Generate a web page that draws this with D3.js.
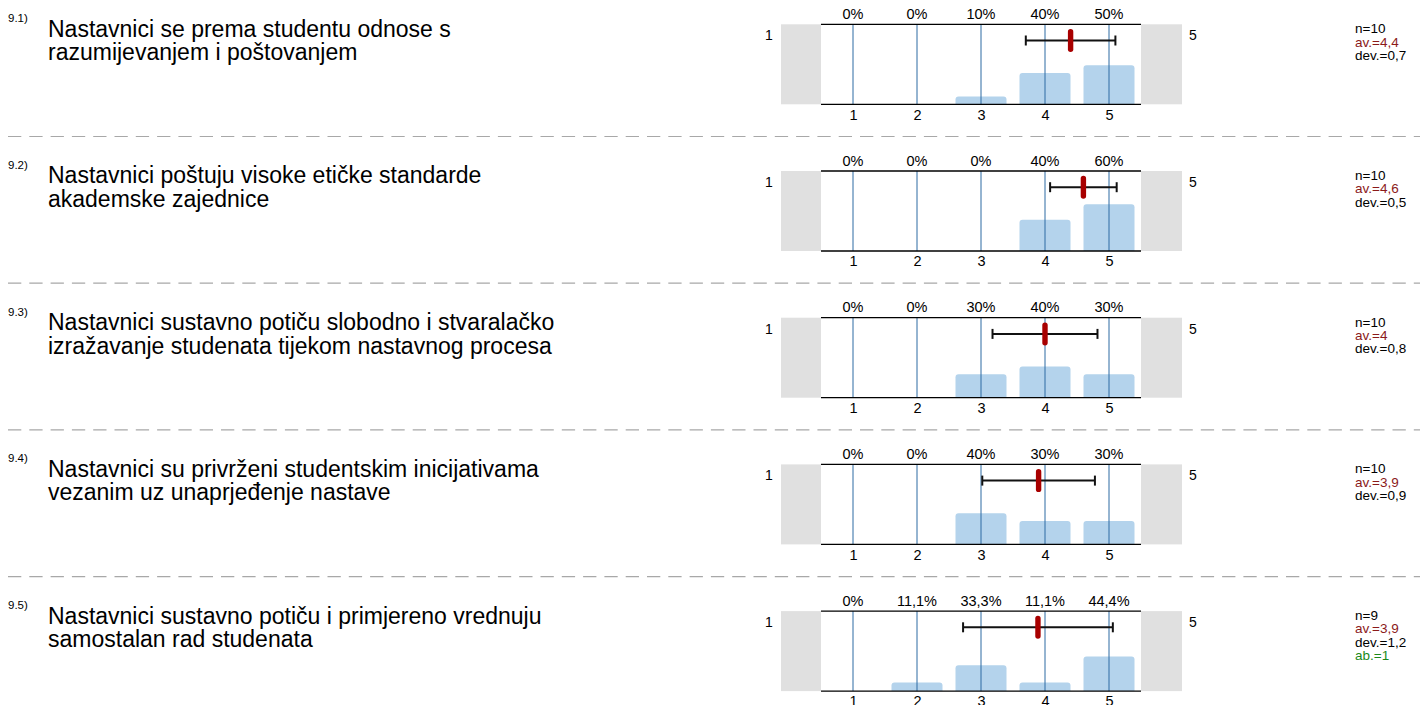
<!DOCTYPE html>
<html><head><meta charset="utf-8">
<script src="https://cdn.jsdelivr.net/npm/d3@7"></script>
<style>html,body{margin:0;padding:0;background:#fff;overflow:hidden}svg{display:block;font-family:"Liberation Sans",Arial,sans-serif}</style>
</head><body><svg id="c" width="1420" height="705"></svg>
<script>
const questionNums = ["9.1)", "9.2)", "9.3)", "9.4)", "9.5)"];
const questionLines = [
  ["Nastavnici se prema studentu odnose s", "razumijevanjem i poštovanjem"],
  ["Nastavnici poštuju visoke etičke standarde", "akademske zajednice"],
  ["Nastavnici sustavno potiču slobodno i stvaralačko", "izražavanje studenata tijekom nastavnog procesa"],
  ["Nastavnici su privrženi studentskim inicijativama", "vezanim uz unaprjeđenje nastave"],
  ["Nastavnici sustavno potiču i primjereno vrednuju", "samostalan rad studenata"]
];
const categories = [1, 2, 3, 4, 5];
const percentValues = [
  [0, 0, 10, 40, 50],
  [0, 0, 0, 40, 60],
  [0, 0, 30, 40, 30],
  [0, 0, 40, 30, 30],
  [0, 11.1, 33.3, 11.1, 44.4]
];
const nValues = [10, 10, 10, 10, 9];
const meanValues = [4.4, 4.6, 4.0, 3.9, 3.89];
const devValues = [0.7, 0.52, 0.82, 0.88, 1.17];
const avLabels = ["4,4", "4,6", "4", "3,9", "3,9"];
const devLabels = ["0,7", "0,5", "0,8", "0,9", "1,2"];
const abLabels = [null, null, null, null, "1"];
const scaleMinLabel = "1", scaleMaxLabel = "5";

const svg = d3.select("#c");
const rowStep = 146.7, firstTop = 24.3, plotH = 80;
const x = d3.scaleLinear().domain([0.5, 5.5]).range([821, 1141]);
const barH = d3.scaleLinear().domain([0, 100]).range([0, 78]);
const fmtPct = v => String(v).replace(".", ",") + "%";

questionNums.forEach((q, i) => {
  const top = firstTop + i * rowStep, bot = top + plotH;
  const g = svg.append("g");
  if (i > 0) g.append("line").attr("x1", 8).attr("x2", 1420).attr("y1", top - 34.5).attr("y2", top - 34.5)
    .attr("stroke", "#a8a8a8").attr("stroke-width", 1.2).attr("stroke-dasharray", "13.3,8");
  g.append("text").attr("x", 8).attr("y", top - 2).attr("font-size", 11.5).attr("fill", "#000").text(q);
  questionLines[i].forEach((l, k) => g.append("text").attr("x", 48).attr("y", top + 12.4 + k * 23.6)
    .attr("font-size", 23).attr("fill", "#000").text(l));
  g.append("rect").attr("x", 781).attr("y", top).attr("width", 40).attr("height", plotH).attr("fill", "#e0e0e0");
  g.append("rect").attr("x", 1141).attr("y", top).attr("width", 41).attr("height", plotH).attr("fill", "#e0e0e0");
  g.append("text").attr("x", 769).attr("y", top + 16).attr("text-anchor", "middle").attr("font-size", 14).text(scaleMinLabel);
  g.append("text").attr("x", 1193).attr("y", top + 16).attr("text-anchor", "middle").attr("font-size", 14).text(scaleMaxLabel);
  const bw = 51;
  g.selectAll("path.bar").data(percentValues[i]).join("path").attr("class", "bar")
    .attr("fill", "#b4d3ec")
    .attr("d", (v, j) => {
      const h = barH(v); if (h <= 0) return null;
      const x0 = x(categories[j]) - bw / 2, r = Math.min(3, h);
      return `M${x0},${bot} L${x0},${bot - h + r} Q${x0},${bot - h} ${x0 + r},${bot - h} L${x0 + bw - r},${bot - h} Q${x0 + bw},${bot - h} ${x0 + bw},${bot - h + r} L${x0 + bw},${bot} Z`;
    });
  g.selectAll("line.grid").data(categories).join("line").attr("class", "grid")
    .attr("x1", d => x(d)).attr("x2", d => x(d)).attr("y1", top).attr("y2", bot)
    .attr("stroke", "#2d6aa3").attr("stroke-width", 1);
  [top, bot].forEach(yy => g.append("line").attr("x1", 821).attr("x2", 1141).attr("y1", yy).attr("y2", yy)
    .attr("stroke", "#000").attr("stroke-width", 1.3));
  g.selectAll("text.pct").data(percentValues[i]).join("text").attr("class", "pct")
    .attr("x", (v, j) => x(categories[j])).attr("y", top - 5.5).attr("text-anchor", "middle")
    .attr("font-size", 14.5).text(v => fmtPct(v));
  const axis = d3.axisBottom(x).tickValues(categories).tickSize(0).tickPadding(5).tickFormat(d3.format("d"));
  const ag = g.append("g").attr("transform", `translate(0,${bot})`).call(axis);
  ag.select(".domain").remove();
  ag.selectAll("text").attr("font-size", 14.5).attr("font-family", "Liberation Sans, Arial, sans-serif").attr("fill", "#000");
  const ey = top + 16.2, m = meanValues[i], d = devValues[i];
  g.append("line").attr("x1", x(m - d)).attr("x2", x(m + d)).attr("y1", ey).attr("y2", ey).attr("stroke", "#111").attr("stroke-width", 2);
  [m - d, m + d].forEach(v => g.append("line").attr("x1", x(v)).attr("x2", x(v)).attr("y1", ey - 5).attr("y2", ey + 5)
    .attr("stroke", "#111").attr("stroke-width", 2));
  g.append("rect").attr("x", x(m) - 2.7).attr("y", ey - 11.5).attr("width", 5.4).attr("height", 23).attr("rx", 2.7)
    .attr("fill", "#a80000");
  const stats = [["n=" + nValues[i], "#000"], ["av.=" + avLabels[i], "#8b1a1a"], ["dev.=" + devLabels[i], "#000"]];
  if (abLabels[i] !== null) stats.push(["ab.=" + abLabels[i], "#1a8a1a"]);
  stats.forEach((s, k) => g.append("text").attr("x", 1355).attr("y", top + 9 + k * 13.3).attr("font-size", 13.5)
    .attr("fill", s[1]).text(s[0]));
});
</script></body></html>
